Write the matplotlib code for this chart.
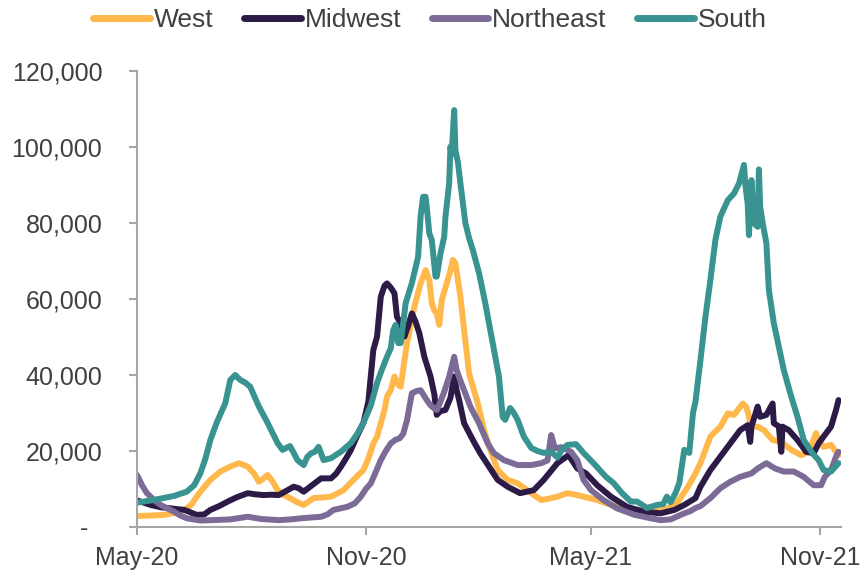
import numpy as np
import matplotlib
matplotlib.use("Agg")
import matplotlib.pyplot as plt
import matplotlib.ticker as mticker

plt.rcParams['font.family'] = ['Liberation Sans', 'DejaVu Sans']

# ---------------- data (days since 2020-05-01, daily cases) ----------------
series_names = ["West", "Midwest", "Northeast", "South"]
series_colors = ["#FFB84C", "#2D1B47", "#7B6B96", "#389391"]

west_day = [0, 10, 22, 32, 40, 44, 48, 54, 59, 67, 75, 82, 89, 94, 98, 102, 105, 109, 113, 118,
            123, 129, 134, 142, 150, 156, 161, 166, 174, 182, 186, 190, 193, 199, 201, 204, 207,
            210, 212, 217, 223, 228, 232, 235, 237, 239, 241, 243, 245, 249, 252, 254, 256, 260,
            263, 267, 274, 279, 284, 290, 298, 306, 317, 325, 332, 338, 346, 354, 359, 370, 381,
            394, 410, 424, 434, 443, 449, 453, 461, 469, 475, 480, 487, 490, 494, 499, 504, 511,
            518, 526, 534, 540, 546, 548, 552, 558, 562, 564]
west = [2900, 3000, 3200, 3800, 4900, 6000, 8000, 10500, 12400, 14600, 15900, 16800, 15900, 14100,
        11900, 12800, 13700, 12000, 9700, 8400, 7600, 6500, 5800, 7600, 7800, 8000, 8800, 9700,
        12400, 15000, 18000, 22000, 23800, 30800, 34300, 36000, 39600, 37500, 36900, 48300, 58000,
        64100, 67600, 65000, 58900, 57000, 56200, 53200, 59700, 64100, 67500, 70300, 69400, 60600,
        51800, 40400, 32500, 25500, 20300, 15000, 12400, 11500, 8900, 7100, 7500, 8000, 8900, 8400,
        8000, 7100, 5800, 4900, 4000, 4500, 6200, 10600, 14100, 16800, 23800, 26400, 29900, 29500,
        32500, 31500, 26400, 26400, 25500, 22900, 22400, 20300, 18900, 19800, 24700, 22900, 21100,
        21600, 19800, 18900]

midwest_day = [0, 11, 19, 27, 38, 48, 54, 59, 66, 73, 80, 89, 95, 102, 108, 114, 120, 126, 130, 134,
               140, 148, 156, 160, 164, 168, 172, 177, 182, 186, 190, 193, 196, 199, 201, 204, 207,
               209, 212, 215, 218, 221, 224, 227, 231, 236, 239, 241, 244, 248, 252, 255, 257, 259,
               263, 270, 276, 283, 290, 298, 308, 319, 327, 338, 347, 354, 361, 370, 381, 394, 408,
               421, 432, 440, 449, 453, 461, 469, 477, 485, 491, 493, 494, 499, 501, 506, 511, 512,
               516, 518, 519, 524, 531, 538, 544, 548, 552, 558, 562, 564]
midwest = [7000, 5800, 5200, 4900, 4500, 3200, 3300, 4500, 5500, 6700, 7800, 8900, 8600, 8400, 8500,
           8400, 9500, 10600, 10200, 9300, 10800, 12800, 12800, 14000, 15900, 18000, 20300, 24000,
           27400, 33000, 46600, 50100, 60600, 63500, 64100, 63000, 61500, 55300, 53600, 50100, 53000,
           56200, 54000, 51000, 44800, 39600, 35000, 29500, 30500, 30800, 34000, 39600, 36000, 33400,
           27300, 22900, 19400, 15900, 12400, 10600, 8900, 9700, 12400, 16800, 18900, 15400, 14100,
           11000, 8000, 5300, 4000, 3600, 4500, 5800, 7600, 10600, 15000, 18500, 22000, 25500, 26800,
           22400, 26400, 31700, 29000, 29500, 32500, 27300, 26500, 19800, 26400, 25500, 22900, 19800,
           19400, 22000, 23800, 26400, 30800, 33400]

northeast_day = [0, 4, 8, 14, 19, 25, 30, 35, 40, 51, 60, 75, 89, 100, 114, 124, 132, 140, 148, 153,
                 158, 169, 175, 180, 184, 188, 192, 196, 200, 204, 208, 211, 214, 217, 221, 225, 228,
                 233, 236, 239, 241, 244, 247, 251, 255, 257, 260, 263, 268, 275, 282, 287, 295, 306,
                 317, 325, 330, 333, 336, 341, 349, 354, 359, 365, 375, 386, 400, 413, 421, 429, 440,
                 445, 449, 453, 461, 469, 477, 485, 494, 499, 506, 513, 520, 528, 536, 544, 550, 553,
                 558, 562, 564]
northeast = [13700, 11000, 8900, 7000, 5800, 4800, 4000, 3000, 2300, 1700, 1800, 2000, 2700, 2100,
             1800, 2000, 2300, 2500, 2700, 3300, 4500, 5300, 6200, 8000, 10000, 11500, 14500, 17600,
             20000, 22000, 23000, 23300, 24500, 28000, 35200, 35800, 36000, 33400, 32000, 31200,
             30800, 33000, 35600, 39600, 44800, 41300, 38500, 36000, 31700, 27300, 22000, 19400,
             17600, 16300, 16300, 16800, 17500, 24200, 20700, 21000, 19800, 17600, 12400, 9700, 7100,
             4900, 3200, 2300, 1800, 2000, 3600, 4200, 5000, 5500, 7600, 10200, 11900, 13200, 14100,
             15400, 16800, 15400, 14600, 14600, 13200, 11000, 11000, 13200, 15000, 18500, 19800]

south_day = [0, 11, 21, 30, 40, 46, 51, 55, 59, 64, 71, 75, 79, 83, 87, 91, 98, 105, 113, 117, 120,
             123, 126, 129, 134, 137, 140, 143, 146, 150, 156, 160, 164, 168, 172, 177, 182, 188,
             193, 197, 201, 204, 206, 208, 210, 212, 216, 221, 226, 228, 230, 232, 233, 235, 237,
             240, 241, 244, 247, 248, 251, 252, 253, 255, 256, 258, 260, 264, 267, 270, 275, 280,
             286, 291, 294, 296, 300, 303, 306, 311, 317, 322, 327, 333, 338, 342, 346, 353, 359,
             367, 372, 377, 383, 390, 397, 402, 410, 418, 423, 426, 429, 433, 436, 440, 444, 447,
             449, 453, 457, 461, 465, 469, 475, 480, 484, 488, 489, 491, 492, 494, 496, 499, 500,
             501, 503, 506, 508, 512, 516, 520, 526, 531, 536, 543, 548, 552, 558, 564]
south = [6400, 7000, 7600, 8200, 9300, 11000, 14200, 18000, 22900, 27400, 32600, 38700, 40000, 38700,
         38000, 36900, 31700, 27400, 22100, 20300, 20800, 21300, 19500, 17600, 16300, 18500, 19400,
         19800, 21100, 17600, 18100, 19000, 19800, 21000, 22100, 24500, 27400, 32000, 37900, 41500,
         44800, 47000, 51800, 53200, 48400, 48400, 58900, 64200, 71100, 81700, 86900, 86900, 84000,
         77300, 75500, 65900, 65900, 72000, 76400, 81700, 90500, 100100, 98000, 109700, 99200, 96000,
         90500, 80000, 76000, 72900, 66800, 58900, 48400, 39600, 29000, 28200, 31300, 30000, 28200,
         23800, 20800, 20000, 19500, 19800, 18300, 20500, 21600, 21800, 19500, 16800, 15000, 13200,
         11600, 8900, 6700, 6700, 5000, 5800, 6000, 8000, 6500, 9000, 11600, 20300, 19500, 30000,
         33000, 43900, 55300, 65000, 75500, 81700, 86000, 87800, 90400, 95300, 90400, 85000, 76800,
         91300, 79900, 79000, 94100, 84300, 80000, 74700, 62400, 53600, 47400, 41300, 34300, 29000,
         22900, 19400, 17600, 15000, 14600, 16800]

tick_dates = ["2020-05-01", "2020-11-01", "2021-05-01", "2021-11-01"]
tick_labels = ["May-20", "Nov-20", "May-21", "Nov-21"]
y_ticks = [0, 20000, 40000, 60000, 80000, 100000, 120000]

# ---------------- plot ----------------
start = np.datetime64("2020-05-01")
fig = plt.figure(figsize=(8.6, 5.74), dpi=100)
ax = fig.add_axes([137 / 860, 47 / 574, (841 - 137) / 860, (527 - 71) / 574])

all_days = [west_day, midwest_day, northeast_day, south_day]
all_vals = [west, midwest, northeast, south]
for name, col, d, v in zip(series_names, series_colors, all_days, all_vals):
    x = start + np.array(d, dtype="timedelta64[D]")
    ax.plot(x, v, color=col, lw=4.3, label=name, solid_joinstyle="round",
            solid_capstyle="round")

ax.set_ylim(0, 120000)
ax.set_xlim(start, start + np.timedelta64(566, "D"))
ax.set_yticks(y_ticks)
ax.yaxis.set_major_formatter(mticker.FuncFormatter(
    lambda v, p: "-  " if v == 0 else f"{v:,.0f}"))
ax.set_xticks([np.datetime64(t) for t in tick_dates])
ax.set_xticklabels(tick_labels)

for s in ["top", "right"]:
    ax.spines[s].set_visible(False)
for s in ["left", "bottom"]:
    ax.spines[s].set_color("#A6A6A6")
    ax.spines[s].set_linewidth(1.5)
ax.tick_params(axis="y", colors="#A6A6A6", length=6, width=1.5, pad=19,
               labelcolor="#404040", labelsize=18)
ax.tick_params(axis="x", colors="#A6A6A6", length=6, width=1.5, pad=8,
               labelcolor="#404040", labelsize=18)

leg = fig.legend(loc="center", bbox_to_anchor=(0.5, 0.965), ncol=4, frameon=False,
                 fontsize=19, handlelength=2.15, handletextpad=0.15, columnspacing=1.15,
                 borderaxespad=0)
for t in leg.get_texts():
    t.set_color("#404040")
for h in leg.get_lines():
    h.set_linewidth(5)

fig.savefig("out.png", dpi=100)
